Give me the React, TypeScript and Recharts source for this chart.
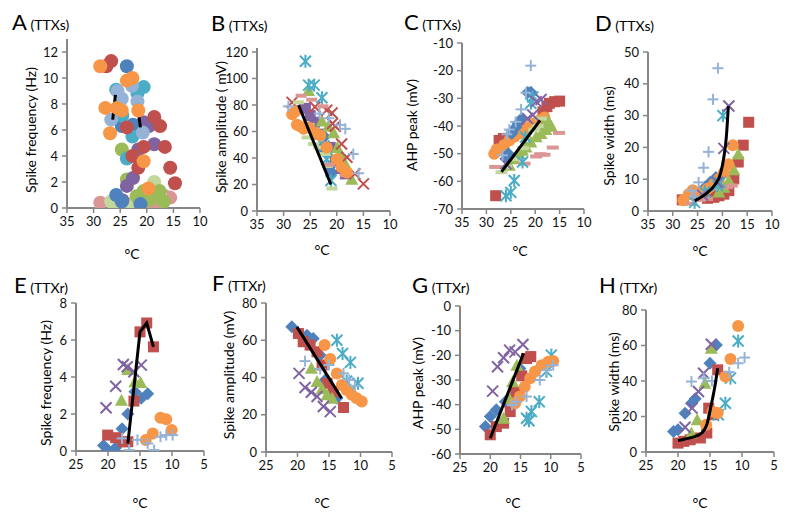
import React from 'react';
import { ScatterChart, Scatter, XAxis, YAxis } from 'recharts';

type P = [number, number];

// ---------- colours ----------
const BLUE = '#4F81BD';
const RED = '#C0504D';
const GREEN = '#9BBB59';
const PURPLE = '#8064A2';
const TEAL = '#4BACC6';
const ORANGE = '#F79646';
const LBLUE = '#95B3D7';
const PINK = '#DA9694';
const LGREEN = '#C3D69B';

// ---------- tick labels ----------
const xTicksTop = [10, 15, 20, 25, 30, 35];
const xTicksBottom = [5, 10, 15, 20, 25];
const yTicksA = [0, 2, 4, 6, 8, 10, 12];
const yTicksB = [0, 20, 40, 60, 80, 100, 120];
const yTicksC = [-70, -60, -50, -40, -30, -20, -10];
const yTicksD = [0, 10, 20, 30, 40, 50];
const yTicksE = [0, 2, 4, 6, 8];
const yTicksF = [0, 20, 40, 60, 80];
const yTicksG = [-60, -50, -40, -30, -20, -10, 0];
const yTicksH = [0, 20, 40, 60, 80];

// ---------- Panel A (TTXs) spike frequency ----------
const aOrange: P[] = [[28.75, 10.9], [27.8, 7.7], [26.9, 5.75], [25.6, 7.7], [24.7, 7.5], [23.75, 9.8], [22.7, 10], [21.6, 7.5], [20.6, 3.6], [19.7, 1.5]];
const aRed: P[] = [[26.7, 11.3], [27.6, 10.9], [23.75, 6.2], [18.6, 7], [17.5, 6.3], [20.6, 4.7], [16.6, 4.7], [21.6, 3.1], [15.6, 3.1], [14.7, 1.9], [22.7, 4.0]];
const aBlue: P[] = [[23.75, 10.9], [24.7, 6.3], [22.6, 6.4], [25.75, 1.0], [24.7, 0.5], [21.2, 0.3]];
const aTeal: P[] = [[25.75, 9.1], [20.6, 9.3], [21.75, 8.8], [22.7, 5.5], [23.75, 3.8], [24.6, 7.1]];
const aLBlue: P[] = [[24.7, 8.4], [22.8, 9.4], [21.75, 8.2], [26.7, 6.8], [20.75, 5.8], [25.5, 9.0]];
const aPurple: P[] = [[20.6, 6.6], [19.6, 6.3], [18.6, 4.9], [21.6, 4.5], [22.6, 2.3], [23.75, 1.7], [24.6, 0.6]];
const aGreen: P[] = [[24.7, 4.5], [23.75, 2.2], [21.9, 0.9], [20.6, 1.3], [18.6, 0.8], [17.6, 1.3], [19.7, 0.6], [16.8, 0.5]];
const aLGreen: P[] = [[18.6, 2.0], [19.7, 1.0], [26.7, 0.5], [24.7, 0.1], [22.6, 0.4], [17.5, 1.0]];
const aPink: P[] = [[28.75, 0.4], [20.6, 0.1], [18.6, 0.1], [17.5, 0.3], [16.6, 0.9], [15.6, 0.8], [22.8, 0.1]];
const aLine1: P[] = [[26.4, 6.8], [25.9, 8.7]];
const aLine2: P[] = [[21.8, 8.0], [21.2, 6.2]];

// ---------- Panel B (TTXs) spike amplitude ----------
const bBlue: P[] = [[22.8, 48], [21.9, 44], [20.9, 29], [22.3, 56], [21.4, 33]];
const bRed: P[] = [[28.4, 82], [24.1, 78.5], [21.9, 76], [20.9, 74], [20.3, 64], [19.1, 50.5], [18.1, 40.5], [16.6, 28], [15, 20.5], [20.8, 66]];
const bGreen: P[] = [[25.3, 91], [21.6, 64], [20.6, 59], [19.4, 43], [18.4, 35.5], [17.2, 24], [22.8, 68], [19.9, 48]];
const bPurple: P[] = [[25.9, 77.5], [25, 72], [23.4, 58], [21.25, 48], [20.3, 38], [19.1, 32], [24.2, 67], [18.4, 28]];
const bTeal: P[] = [[25.9, 113], [25.3, 95], [24.25, 95], [22.8, 85.5], [21.9, 39], [21.1, 23], [22.4, 49]];
const bOrange: P[] = [[28.4, 73], [27.5, 65], [26.25, 62], [25.3, 63], [24.1, 59], [23.1, 57], [21.9, 48], [20, 39], [19.1, 33], [18.1, 29], [27.8, 75], [26.9, 64]];
const bLBlue: P[] = [[29.1, 79], [23.25, 73.5], [18.4, 62], [16.9, 43], [15.9, 28.5], [19.4, 65], [21.5, 70]];
const bPink: P[] = [[26.7, 87], [24.7, 84], [22.6, 79], [18.4, 27], [21.4, 35]];
const bLGreen: P[] = [[27.2, 82], [25.6, 55.5], [24.4, 50.5], [22.2, 43], [20.9, 17], [25.2, 65], [23.4, 48], [21.8, 34]];
const bLine: P[] = [[27.2, 80], [21.1, 20]];

// ---------- Panel C (TTXs) AHP peak ----------
const cBlue: P[] = [[21.55, -27.9], [20.9, -27.8], [22.9, -37.6], [23.5, -39], [24, -40.5], [24.8, -42.7], [26, -51.8], [25.5, -50]];
const cRed: P[] = [[28.1, -65.2], [27.4, -45.2], [26.5, -44.5], [25.7, -44.5], [24.5, -43.5], [23.5, -42.5], [18.4, -34.9], [17.6, -33], [17.1, -31.8], [16, -31.2], [15, -31]];
const cGreen: P[] = [[25.3, -54.2], [24.3, -51.8], [23.3, -50], [22.6, -48.8], [21.9, -47.6], [20.9, -45.8], [19.8, -43.9], [18.8, -42.7], [17.8, -41.3], [16.7, -40.1], [18.3, -39.5], [17.4, -38]];
const cPurple: P[] = [[18.8, -30.4], [19.8, -31.2], [21.55, -37.3], [26, -53.6], [20.5, -36]];
const cTeal: P[] = [[20.9, -31.8], [20.5, -29.5], [22.6, -53], [24.3, -59.7], [25, -64], [26, -65.2], [22, -44]];
const cOrange: P[] = [[28.4, -50], [27.4, -48.8], [26.4, -47], [25.3, -45.2], [24.3, -43.9], [23.3, -42.7], [22.2, -41.5], [21.2, -40.3], [20.2, -39.1], [19.1, -37.9], [18.1, -36.9], [27.9, -48.5], [22.7, -41]];
const cLBlue: P[] = [[20.9, -18.2], [21.9, -28], [22.9, -34], [24, -38.5], [25.3, -41.3], [26.7, -50.6], [25.8, -43]];
const cPink: P[] = [[28.2, -54.8], [22.2, -53.6], [19.8, -51], [18.1, -50.4], [16.4, -47.8], [15.1, -42.5], [19, -50.2]];
const cLGreen: P[] = [[26.9, -56.7], [26, -54.8], [24.5, -52], [22.5, -48], [20.2, -41.3], [18.8, -37.3], [19.5, -40]];
const cLine: P[] = [[26.9, -56.6], [19, -38]];

// ---------- Panel D (TTXs) spike width ----------
const dBlue: P[] = [[21.3, 10.5], [22.5, 9], [23.5, 7.5], [24.5, 6], [25.5, 5]];
const dRed: P[] = [[14.7, 27.9], [15.8, 20.7], [16.8, 15.4], [17.7, 10.1], [18.7, 6.4], [19.7, 5.3], [20.7, 4.8], [21.7, 4.3], [23, 4], [28.1, 3.5]];
const dGreen: P[] = [[16.8, 17.9], [17.7, 13], [18.7, 9.6], [19.7, 7.5], [20.7, 6]];
const dPurple: P[] = [[18.7, 33], [19.7, 19.7], [21, 9], [24, 5]];
const dTeal: P[] = [[19.9, 30], [25.6, 2.7], [21, 8], [23.5, 6], [20.5, 9]];
const dOrange: P[] = [[17.9, 20.7], [18.8, 14.7], [19.7, 12], [20.7, 10.1], [21.7, 8.5], [23, 7], [24.5, 6], [26.8, 5.3], [27.9, 3.4], [26, 6.5]];
const dLBlue: P[] = [[20.9, 44.9], [21.9, 35.1], [22.8, 18.6], [23.8, 13.6], [24.8, 9], [26.2, 6.4], [25.6, 4.5]];
const dPink: P[] = [[26.2, 2.3], [24.5, 3.5], [23, 3.8], [19, 7.5], [18, 8]];
const dLine: P[] = [[25.6, 3.2], [23.4, 5.3], [21.4, 8.5], [20.4, 11.7], [19.7, 17], [19.2, 23.4], [18.8, 33]];

// ---------- Panel E (TTXr) spike frequency ----------
const eBlue: P[] = [[20.7, 0.3], [20.05, 0.05], [18.8, 0.18], [17.8, 1.2], [16.9, 2.0], [15.8, 3.2], [14.8, 2.85], [13.8, 3.1]];
const eRed: P[] = [[20.05, 0.86], [18.8, 0.72], [17.6, 0.5], [16.9, 0.5], [15.95, 2.7], [15, 6.44], [13.95, 6.92], [12.9, 5.63]];
const eGreen: P[] = [[17.9, 2.75], [16.9, 4.4], [15.8, 3.74], [14.9, 3.7]];
const ePurple: P[] = [[20.3, 2.34], [18.8, 3.5], [17.6, 4.68], [17, 4.55], [15.95, 4.28], [14.8, 4.64]];
const eOrange: P[] = [[14.1, 0.6], [13, 0.95], [11.8, 1.8], [10.9, 1.72], [10.05, 1.13]];
const eLBlue: P[] = [[17.8, 0.68], [16.7, 0.05], [15.4, 0.6], [13.8, 0.41], [12.8, 0.05], [11.8, 0.77], [10.9, 0.86], [9.9, 0.86]];
const eLine: P[] = [[16.9, 0.4], [15, 6.44], [13.95, 6.92], [12.9, 5.63]];

// ---------- Panel F (TTXr) spike amplitude ----------
const fBlue: P[] = [[20.9, 67.2], [18.5, 62.7], [17.5, 61], [16.4, 52], [15.6, 38.7], [14.55, 30.7], [13.75, 28.9]];
const fRed: P[] = [[19.85, 63.6], [19.1, 59.2], [18, 57.4], [16.9, 53.8], [16.1, 46.7], [15.3, 36.9], [14.3, 32.4], [12.7, 23.9]];
const fGreen: P[] = [[17.8, 44.9], [16.9, 37.8], [16.1, 34], [15.3, 30.7], [14.5, 28.9]];
const fPurple: P[] = [[19.75, 42.2], [18.8, 34.6], [17.8, 32.1], [16.9, 29.8], [15.9, 24.4], [14.8, 21.7]];
const fTeal: P[] = [[13.75, 60], [12.85, 52.9], [11.6, 48.1], [10.4, 36.9], [12.2, 38]];
const fOrange: P[] = [[15.7, 57.4], [14.8, 49.9], [13.75, 42.2], [12.96, 36], [12.2, 33.3], [11.4, 30.7], [10.6, 28.9], [9.8, 27.1]];
const fLBlue: P[] = [[18.8, 48.8], [16.4, 44.6], [15, 46.7], [12.7, 42.2], [11.8, 38.7], [10.9, 35.5]];
const fLine: P[] = [[20.1, 67.2], [13, 28.9]];

// ---------- Panel G (TTXr) AHP peak ----------
const gBlue: P[] = [[20.8, -48.9], [20, -44.8], [19, -42.1], [17.5, -38.8], [15.1, -25.3]];
const gRed: P[] = [[20, -52.2], [19, -48.9], [17.8, -47.5], [16.7, -42.8], [15.8, -35], [14.8, -28.3], [14, -21.3], [13.3, -20.5]];
const gGreen: P[] = [[17.8, -45.5], [16.9, -37.4], [16.3, -30.7], [15.6, -24]];
const gPurple: P[] = [[19.6, -34.5], [18.8, -24.6], [17.8, -21], [16.8, -17.9], [15.9, -18.6], [14.6, -15.6]];
const gTeal: P[] = [[14, -45.5], [13.2, -42.8], [11.9, -38.8], [13.6, -46.5], [9.9, -19.9], [10.7, -26.5]];
const gOrange: P[] = [[15.9, -39.4], [15.1, -36.7], [14.3, -32.7], [13.4, -29.3], [12.6, -26.6], [11.5, -24], [10.4, -22.6], [9.6, -22.3]];
const gLBlue: P[] = [[16.4, -40.1], [15.7, -38.8], [14, -36.7], [11.8, -30], [10.7, -26], [9.6, -24]];
const gLine: P[] = [[20, -53.6], [14.5, -19.2]];

// ---------- Panel H (TTXr) spike width ----------
const hBlue: P[] = [[20.7, 11.6], [20, 12.5], [18.9, 21.9], [17.9, 27.5], [17.3, 30], [15, 50], [14, 60.3]];
const hRed: P[] = [[20, 5], [19.1, 6], [18.1, 6.9], [16.5, 7.9], [15.5, 10.7], [15.2, 24.7], [14.5, 21], [13.8, 46.3]];
const hGreen: P[] = [[17.9, 10.7], [17, 18.2], [15.8, 38.8], [14.8, 58.4]];
const hPurple: P[] = [[18.9, 13.9], [17.8, 24.7], [16.8, 34.1], [16, 44.4], [14.8, 60.7]];
const hTeal: P[] = [[12.6, 27.5], [11.8, 41.6], [10.6, 62.5], [13.7, 21]];
const hOrange: P[] = [[15.6, 15.4], [14.6, 22.8], [13.8, 22], [12.6, 42.5], [11.8, 52.4], [10.6, 71]];
const hLBlue: P[] = [[17.9, 39.7], [16, 41.6], [14.7, 40], [12, 45], [10.6, 50], [9.6, 53.2]];
const hLine: P[] = [[20, 6.4], [18.9, 7.3], [17.3, 8.8], [16.3, 10.7], [15.5, 15.4], [14.8, 26.6], [14.2, 37.8], [13.8, 47.2]];

// ---------- helpers ----------
const FONT = 'Lato, "Liberation Sans", Arial, sans-serif';
const AXIS = '#868686';

type Kind = 'circle' | 'square' | 'diamond' | 'triangle' | 'x' | 'plus' | 'star' | 'dash' | 'none';

function marker(kind: Kind, color: string, s: number) {
  return (p: any) => {
    const cx = p.cx, cy = p.cy;
    if (cx == null || cy == null || kind === 'none') return <g />;
    const h = s / 2;
    switch (kind) {
      case 'circle':
        return <circle cx={cx} cy={cy} r={h} fill={color} />;
      case 'square':
        return <rect x={cx - h} y={cy - h} width={s} height={s} fill={color} />;
      case 'diamond':
        return <polygon points={`${cx},${cy - h - 1} ${cx + h + 1},${cy} ${cx},${cy + h + 1} ${cx - h - 1},${cy}`} fill={color} />;
      case 'triangle':
        return <polygon points={`${cx},${cy - h - 1} ${cx + h + 1},${cy + h} ${cx - h - 1},${cy + h}`} fill={color} />;
      case 'x':
        return (
          <g stroke={color} strokeWidth={2}>
            <line x1={cx - h} y1={cy - h} x2={cx + h} y2={cy + h} />
            <line x1={cx - h} y1={cy + h} x2={cx + h} y2={cy - h} />
          </g>
        );
      case 'plus':
        return (
          <g stroke={color} strokeWidth={2}>
            <line x1={cx - h} y1={cy} x2={cx + h} y2={cy} />
            <line x1={cx} y1={cy - h} x2={cx} y2={cy + h} />
          </g>
        );
      case 'star':
        return (
          <g stroke={color} strokeWidth={2}>
            <line x1={cx - h} y1={cy - h} x2={cx + h} y2={cy + h} />
            <line x1={cx - h} y1={cy + h} x2={cx + h} y2={cy - h} />
            <line x1={cx} y1={cy - h - 1} x2={cx} y2={cy + h + 1} />
          </g>
        );
      case 'dash':
        return <rect x={cx - h} y={cy - 2} width={s} height={4} fill={color} />;
    }
    return <g />;
  };
}

type Ser = { pts: P[]; kind: Kind; color: string; size?: number; line?: boolean; curve?: boolean };

const toXY = (pts: P[]) => pts.map(([x, y]) => ({ x, y }));

function renderSeries(list: Ser[], prefix: string) {
  return list.map((s, i) =>
    s.line ? (
      <Scatter
        key={prefix + i}
        data={toXY(s.pts)}
        fill="#000"
        line={{ stroke: '#000', strokeWidth: 3 }}
        lineJointType={s.curve ? 'monotoneX' : 'linear'}
        shape={marker('none', '#000', 0)}
        isAnimationActive={false}
      />
    ) : (
      <Scatter
        key={prefix + i}
        data={toXY(s.pts)}
        fill={s.color}
        shape={marker(s.kind, s.color, s.size ?? 11)}
        isAnimationActive={false}
      />
    )
  );
}

type PanelProps = {
  id: string;
  left: number;
  top: number;
  w: number;
  h: number;
  xDomain: [number, number];
  xTicks: number[];
  yDomain: [number, number];
  yTicks: number[];
  series: Ser[];
};

function Panel({ id, left, top, w, h, xDomain, xTicks, yDomain, yTicks, series }: PanelProps) {
  const mL = 6, yW = 44, mT = 10, xH = 30, mR = 10;
  const tick = { fontSize: 13, fill: '#111', fontFamily: FONT };
  return (
    <div style={{ position: 'absolute', left: left - mL - yW, top: top - mT }}>
      <ScatterChart width={w + mL + yW + mR} height={h + mT + xH} margin={{ top: mT, right: mR, bottom: 0, left: mL }}>
        <XAxis
          type="number"
          dataKey="x"
          domain={xDomain}
          ticks={xTicks}
          interval={0}
          reversed
          allowDataOverflow
          height={xH}
          tick={tick}
          tickSize={5}
          tickMargin={4}
          axisLine={{ stroke: AXIS, strokeWidth: 2 }}
          tickLine={{ stroke: AXIS, strokeWidth: 1.5 }}
        />
        <YAxis
          type="number"
          dataKey="y"
          domain={yDomain}
          ticks={yTicks}
          interval={0}
          allowDataOverflow
          width={yW}
          tick={tick}
          tickSize={5}
          tickMargin={4}
          axisLine={{ stroke: AXIS, strokeWidth: 2 }}
          tickLine={{ stroke: AXIS, strokeWidth: 1.5 }}
        />
        {renderSeries(series, id)}
      </ScatterChart>
    </div>
  );
}

function Title({ letter, sub, x, y }: { letter: string; sub: string; x: number; y: number }) {
  return (
    <div style={{ position: 'absolute', left: x, top: y - 12, fontFamily: FONT, lineHeight: '24px', whiteSpace: 'nowrap', color: '#000' }}>
      <span style={{ fontSize: 22 }}>{letter}</span>
      <span style={{ fontSize: 14 }}> ({sub})</span>
    </div>
  );
}

function YLabel({ text, x, y }: { text: string; x: number; y: number }) {
  return (
    <div
      style={{
        position: 'absolute',
        left: x,
        top: y,
        transform: 'translate(-50%, -50%) rotate(-90deg)',
        fontFamily: FONT,
        fontSize: 14,
        whiteSpace: 'nowrap',
        color: '#000',
      }}
    >
      {text}
    </div>
  );
}

function Deg({ x, y }: { x: number; y: number }) {
  return (
    <div style={{ position: 'absolute', left: x, top: y, transform: 'translate(-50%, -50%)', fontFamily: FONT, fontSize: 14, color: '#000' }}>
      °C
    </div>
  );
}

const A_SIZE = 14;

export default function App() {
  const seriesA: Ser[] = [
    { pts: aPink, kind: 'circle', color: PINK, size: A_SIZE },
    { pts: aLGreen, kind: 'circle', color: LGREEN, size: A_SIZE },
    { pts: aGreen, kind: 'circle', color: GREEN, size: A_SIZE },
    { pts: aPurple, kind: 'circle', color: PURPLE, size: A_SIZE },
    { pts: aBlue, kind: 'circle', color: BLUE, size: A_SIZE },
    { pts: aTeal, kind: 'circle', color: TEAL, size: A_SIZE },
    { pts: aLBlue, kind: 'circle', color: LBLUE, size: A_SIZE },
    { pts: aLine1, kind: 'none', color: '#000', line: true },
    { pts: aLine2, kind: 'none', color: '#000', line: true },
    { pts: aRed, kind: 'circle', color: RED, size: A_SIZE },
    { pts: aOrange, kind: 'circle', color: ORANGE, size: A_SIZE },
  ];
  const seriesB: Ser[] = [
    { pts: bBlue, kind: 'diamond', color: BLUE },
    { pts: bPurple, kind: 'square', color: PURPLE },
    { pts: bGreen, kind: 'triangle', color: GREEN },
    { pts: bRed, kind: 'x', color: RED },
    { pts: bTeal, kind: 'star', color: TEAL },
    { pts: bLGreen, kind: 'dash', color: LGREEN },
    { pts: bPink, kind: 'dash', color: PINK },
    { pts: bOrange, kind: 'circle', color: ORANGE, size: 12 },
    { pts: bLBlue, kind: 'plus', color: LBLUE },
    { pts: bLine, kind: 'none', color: '#000', line: true },
  ];
  const seriesC: Ser[] = [
    { pts: cRed, kind: 'square', color: RED },
    { pts: cOrange, kind: 'circle', color: ORANGE, size: 12 },
    { pts: cGreen, kind: 'triangle', color: GREEN },
    { pts: cLGreen, kind: 'dash', color: LGREEN, size: 12 },
    { pts: cPink, kind: 'dash', color: PINK, size: 12 },
    { pts: cBlue, kind: 'diamond', color: BLUE },
    { pts: cTeal, kind: 'star', color: TEAL },
    { pts: cPurple, kind: 'x', color: PURPLE },
    { pts: cLBlue, kind: 'plus', color: LBLUE },
    { pts: cLine, kind: 'none', color: '#000', line: true },
  ];
  const seriesD: Ser[] = [
    { pts: dBlue, kind: 'diamond', color: BLUE },
    { pts: dRed, kind: 'square', color: RED },
    { pts: dGreen, kind: 'triangle', color: GREEN },
    { pts: dOrange, kind: 'circle', color: ORANGE, size: 12 },
    { pts: dPink, kind: 'dash', color: PINK },
    { pts: dTeal, kind: 'star', color: TEAL },
    { pts: dPurple, kind: 'x', color: PURPLE },
    { pts: dLBlue, kind: 'plus', color: LBLUE },
    { pts: dLine, kind: 'none', color: '#000', line: true, curve: true },
  ];
  const seriesE: Ser[] = [
    { pts: eBlue, kind: 'diamond', color: BLUE },
    { pts: eRed, kind: 'square', color: RED },
    { pts: eGreen, kind: 'triangle', color: GREEN },
    { pts: ePurple, kind: 'x', color: PURPLE },
    { pts: eOrange, kind: 'circle', color: ORANGE, size: 12 },
    { pts: eLBlue, kind: 'plus', color: LBLUE },
    { pts: eLine, kind: 'none', color: '#000', line: true },
  ];
  const seriesF: Ser[] = [
    { pts: fBlue, kind: 'diamond', color: BLUE },
    { pts: fRed, kind: 'square', color: RED },
    { pts: fGreen, kind: 'triangle', color: GREEN },
    { pts: fPurple, kind: 'x', color: PURPLE },
    { pts: fTeal, kind: 'star', color: TEAL },
    { pts: fOrange, kind: 'circle', color: ORANGE, size: 12 },
    { pts: fLBlue, kind: 'plus', color: LBLUE },
    { pts: fLine, kind: 'none', color: '#000', line: true },
  ];
  const seriesG: Ser[] = [
    { pts: gBlue, kind: 'diamond', color: BLUE },
    { pts: gRed, kind: 'square', color: RED },
    { pts: gGreen, kind: 'triangle', color: GREEN },
    { pts: gPurple, kind: 'x', color: PURPLE },
    { pts: gTeal, kind: 'star', color: TEAL },
    { pts: gOrange, kind: 'circle', color: ORANGE, size: 12 },
    { pts: gLBlue, kind: 'plus', color: LBLUE },
    { pts: gLine, kind: 'none', color: '#000', line: true },
  ];
  const seriesH: Ser[] = [
    { pts: hBlue, kind: 'diamond', color: BLUE },
    { pts: hRed, kind: 'square', color: RED },
    { pts: hGreen, kind: 'triangle', color: GREEN },
    { pts: hPurple, kind: 'x', color: PURPLE },
    { pts: hTeal, kind: 'star', color: TEAL },
    { pts: hOrange, kind: 'circle', color: ORANGE, size: 12 },
    { pts: hLBlue, kind: 'plus', color: LBLUE },
    { pts: hLine, kind: 'none', color: '#000', line: true, curve: true },
  ];

  return (
    <div style={{ position: 'absolute', left: 0, top: 0, width: 788, height: 517, background: '#fff', overflow: 'hidden' }}>
      <Panel id="A" left={67} top={39} w={133} h={169} xDomain={[10, 35]} xTicks={xTicksTop} yDomain={[0, 13]} yTicks={yTicksA} series={seriesA} />
      <Panel id="B" left={257} top={48} w={133} h={163} xDomain={[10, 35]} xTicks={xTicksTop} yDomain={[0, 123]} yTicks={yTicksB} series={seriesB} />
      <Panel id="C" left={462} top={43} w={122} h={166} xDomain={[10, 35]} xTicks={xTicksTop} yDomain={[-70, -10]} yTicks={yTicksC} series={seriesC} />
      <Panel id="D" left={648} top={52} w={124} h={159} xDomain={[10, 35]} xTicks={xTicksTop} yDomain={[0, 50]} yTicks={yTicksD} series={seriesD} />
      <Panel id="E" left={76} top={303} w={128} h={148} xDomain={[5, 25]} xTicks={xTicksBottom} yDomain={[0, 8]} yTicks={yTicksE} series={seriesE} />
      <Panel id="F" left={266} top={303} w={126} h={149} xDomain={[5, 25]} xTicks={xTicksBottom} yDomain={[0, 80]} yTicks={yTicksF} series={seriesF} />
      <Panel id="G" left={460} top={306} w={121} h={148} xDomain={[5, 25]} xTicks={xTicksBottom} yDomain={[-60, 0]} yTicks={yTicksG} series={seriesG} />
      <Panel id="H" left={646} top={310} w={128} h={142} xDomain={[5, 25]} xTicks={xTicksBottom} yDomain={[0, 80]} yTicks={yTicksH} series={seriesH} />

      <Title letter="A" sub="TTXs" x={12} y={22} />
      <Title letter="B" sub="TTXs" x={211} y={23} />
      <Title letter="C" sub="TTXs" x={404} y={22} />
      <Title letter="D" sub="TTXs" x={595} y={23} />
      <Title letter="E" sub="TTXr" x={14} y={285} />
      <Title letter="F" sub="TTXr" x={212} y={283} />
      <Title letter="G" sub="TTXr" x={412} y={285} />
      <Title letter="H" sub="TTXr" x={599} y={285} />

      <YLabel text="Spike frequency (Hz)" x={30} y={130} />
      <YLabel text="Spike amplitude ( mV)" x={220} y={127} />
      <YLabel text="AHP peak (mV)" x={411} y={125} />
      <YLabel text="Spike  width (ms)" x={608} y={136} />
      <YLabel text="Spike frequency (Hz)" x={45} y={383} />
      <YLabel text="Spike amplitude  (mV)" x={228} y={375} />
      <YLabel text="AHP peak (mV)" x={417} y={383} />
      <YLabel text="Spike  width (ms)" x={613} y={382} />

      <Deg x={132} y={253} />
      <Deg x={322} y={249} />
      <Deg x={520} y={250} />
      <Deg x={700} y={250} />
      <Deg x={140} y={502} />
      <Deg x={322} y={502} />
      <Deg x={513} y={502} />
      <Deg x={700} y={502} />
    </div>
  );
}
